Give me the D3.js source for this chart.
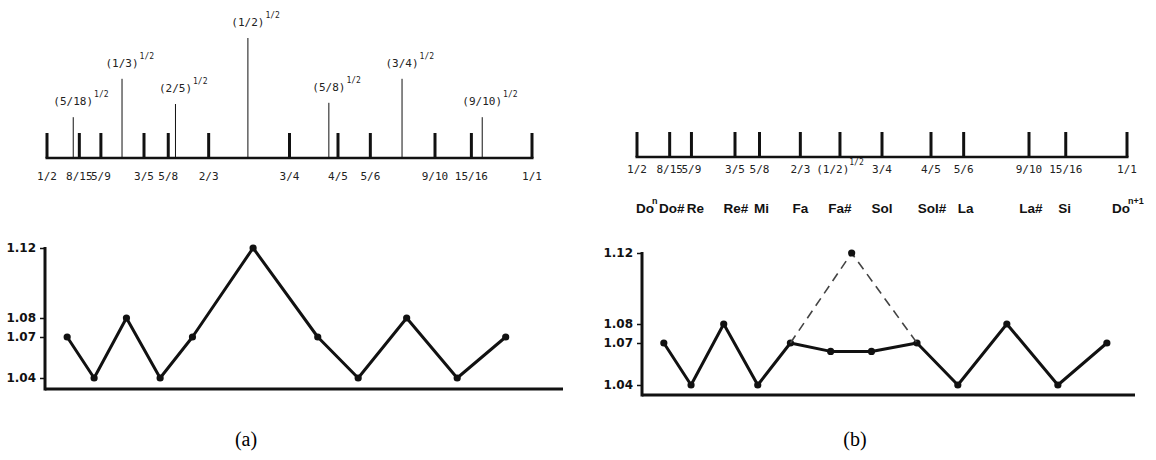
<!DOCTYPE html>
<html>
<head>
<meta charset="utf-8">
<script src="https://cdn.jsdelivr.net/npm/d3@7"></script>
<style>
body{margin:0;background:#fff}
.lbl{font-family:"DejaVu Sans Mono",monospace;font-size:11px;fill:#222}
.sup{font-family:"DejaVu Sans Mono",monospace;font-size:8px;fill:#222}
.note{font-family:"Liberation Sans",Arial,sans-serif;font-size:13.5px;font-weight:bold;fill:#111}
.notesup{font-family:"Liberation Sans",Arial,sans-serif;font-size:9px;font-weight:bold;fill:#111}
.yax text{font-family:"DejaVu Sans",sans-serif;font-size:12px;font-weight:bold;fill:#111}
.yax line{stroke:#111;stroke-width:1.5}
.cap{font-family:"Liberation Serif","Times New Roman",serif;font-size:20px;fill:#000}
</style>
</head>
<body>
<script>
// panel (a) ruler: just intonation ratios
var labelsA = ["1/2","8/15","5/9","3/5","5/8","2/3","3/4","4/5","5/6","9/10","15/16","1/1"];
var ratiosA = [1/2, 8/15, 5/9, 3/5, 5/8, 2/3, 3/4, 4/5, 5/6, 9/10, 15/16, 1];

// square-root ratios drawn as thin lines, with relative height
var rootLabels = ["5/18","1/3","2/5","1/2","5/8","3/4","9/10"];
var rootRatios = [Math.sqrt(5/18), Math.sqrt(1/3), Math.sqrt(2/5), Math.sqrt(1/2), Math.sqrt(5/8), Math.sqrt(3/4), Math.sqrt(9/10)];
var rootLevel = [0.34, 0.66, 0.45, 1, 0.46, 0.66, 0.34];

// panel (b) ruler with (1/2)^1/2 inserted
var labelsB = ["1/2","8/15","5/9","3/5","5/8","2/3","(1/2)","3/4","4/5","5/6","9/10","15/16","1/1"];
var labelSupB = ["","","","","","","1/2","","","","","",""];
var ratiosB = [1/2, 8/15, 5/9, 3/5, 5/8, 2/3, Math.sqrt(1/2), 3/4, 4/5, 5/6, 9/10, 15/16, 1];
var noteNames = ["Do","Do#","Re","Re#","Mi","Fa","Fa#","Sol","Sol#","La","La#","Si","Do"];
var noteSup = ["n","","","","","","","","","","","","n+1"];

// step ratios between neighbouring notes
var yTicks = [1.04, 1.07, 1.08, 1.12];
var stepsA = [1.07, 1.04, 1.08, 1.04, 1.07, 1.12, 1.07, 1.04, 1.08, 1.04, 1.07];
var stepsB = [1.07, 1.04, 1.08, 1.04, 1.07, 1.064, 1.064, 1.07, 1.04, 1.08, 1.04, 1.07];
var dashRatios = [5/8, 2/3, 3/4, 4/5];
var dashSteps = [1.07, 1.12, 1.07];

var svg = d3.select("body").append("svg")
  .attr("width", 1156)
  .attr("height", 460);

var midpoints = function(r){
  var m = [];
  for (var i = 0; i < r.length - 1; i++) m.push((r[i] + r[i+1]) / 2);
  return m;
};

var drawRuler = function(x, ratios, base){
  var g = svg.append("g");
  g.append("line")
    .attr("x1", x(0.5) - 1.5).attr("x2", x(1) + 1.5)
    .attr("y1", base).attr("y2", base)
    .attr("stroke", "#111").attr("stroke-width", 2.5);
  g.selectAll(".tk")
    .data(ratios)
    .enter()
    .append("line")
    .attr("x1", function(d){ return x(d); })
    .attr("x2", function(d){ return x(d); })
    .attr("y1", base)
    .attr("y2", base - 25)
    .attr("stroke", "#111")
    .attr("stroke-width", 3);
  return g;
};

// ---------- panel (a) top ----------
var xA = d3.scaleLinear().domain([0.5, 1]).range([47, 532]);
var baseA = 158;
var gA = drawRuler(xA, ratiosA, baseA);

gA.selectAll(".lb")
  .data(labelsA)
  .enter()
  .append("text")
  .attr("class", "lbl")
  .attr("text-anchor", "middle")
  .attr("x", function(d,i){ return xA(ratiosA[i]); })
  .attr("y", baseA + 22)
  .text(function(d){ return d; });

var hA = d3.scaleLinear().domain([0, 1]).range([baseA, 38]);

gA.selectAll(".rt")
  .data(rootRatios)
  .enter()
  .append("line")
  .attr("x1", function(d){ return xA(d); })
  .attr("x2", function(d){ return xA(d); })
  .attr("y1", baseA)
  .attr("y2", function(d,i){ return hA(rootLevel[i]); })
  .attr("stroke", "#111")
  .attr("stroke-width", 1);

rootRatios.forEach(function(r, i){
  var t = gA.append("text")
    .attr("class", "lbl")
    .attr("text-anchor", "middle")
    .attr("x", xA(r))
    .attr("y", hA(rootLevel[i]) - 12)
    .text("(" + rootLabels[i] + ")");
  var w = t.node().getComputedTextLength();
  gA.append("text")
    .attr("class", "sup")
    .attr("x", xA(r) + w / 2 + 1)
    .attr("y", hA(rootLevel[i]) - 20)
    .text("1/2");
});

// ---------- panel (b) top ----------
var xB = d3.scaleLinear().domain([0.5, 1]).range([637, 1127]);
var baseB = 157;
var gB = drawRuler(xB, ratiosB, baseB);

labelsB.forEach(function(l, i){
  var t = gB.append("text")
    .attr("class", "lbl")
    .attr("text-anchor", "middle")
    .attr("x", xB(ratiosB[i]))
    .attr("y", baseB + 16)
    .text(l);
  if (labelSupB[i]) {
    t.append("tspan").attr("class", "sup").attr("dy", -8).text(labelSupB[i]);
  }
});

// small nudges so the crowded names at the start don't touch
var nameNudge = [-1, 2, 4, 1, 2, 0, 0, 0, 1, 2, 2, -1, -6];
noteNames.forEach(function(n, i){
  var t = gB.append("text")
    .attr("class", "note")
    .attr("text-anchor", i == 0 ? "start" : "middle")
    .attr("x", xB(ratiosB[i]) + nameNudge[i])
    .attr("y", 213)
    .text(n);
  if (noteSup[i]) {
    var bb = t.node().getBBox();
    gB.append("text")
      .attr("class", "notesup")
      .attr("x", bb.x + bb.width - 2)
      .attr("y", 204)
      .text(noteSup[i]);
  }
});

// ---------- lower charts ----------
var drawSteps = function(xS, yS, axisX, axisTop, axisBottom, axisRight, ratios, steps){
  var g = svg.append("g");
  g.append("g")
    .attr("class", "yax")
    .attr("transform", "translate(" + axisX + ",0)")
    .call(d3.axisLeft(yS).tickValues(yTicks).tickSize(5).tickPadding(4).tickFormat(d3.format(".2f")))
    .select(".domain").remove();
  g.append("line")
    .attr("x1", axisX).attr("x2", axisX)
    .attr("y1", axisTop).attr("y2", axisBottom + 1.5)
    .attr("stroke", "#111").attr("stroke-width", 3);
  g.append("line")
    .attr("x1", axisX).attr("x2", axisRight)
    .attr("y1", axisBottom).attr("y2", axisBottom)
    .attr("stroke", "#111").attr("stroke-width", 3);

  var pts = midpoints(ratios).map(function(m, i){ return [xS(m), yS(steps[i])]; });
  g.append("path")
    .attr("d", d3.line()(pts))
    .attr("fill", "none")
    .attr("stroke", "#111")
    .attr("stroke-width", 3)
    .attr("stroke-linejoin", "round");
  g.selectAll("circle")
    .data(pts)
    .enter()
    .append("circle")
    .attr("cx", function(d){ return d[0]; })
    .attr("cy", function(d){ return d[1]; })
    .attr("r", 3.6)
    .attr("fill", "#111");
  return g;
};

var xA2 = d3.scaleLinear().domain([0.5, 1]).range([51, 536]);
var yA2 = d3.scaleLinear().domain(yTicks).range([378, 337, 318, 248]);
drawSteps(xA2, yA2, 45, 247, 389, 563, ratiosA, stepsA);

var xB2 = d3.scaleLinear().domain([0.5, 1]).range([647.5, 1137.5]);
var yB2 = d3.scaleLinear().domain(yTicks).range([385, 343, 324, 253]);
var gB2 = drawSteps(xB2, yB2, 642, 252, 395, 1135, ratiosB, stepsB);

var dashPts = midpoints(dashRatios).map(function(m, i){ return [xB2(m), yB2(dashSteps[i])]; });
gB2.append("path")
  .attr("d", d3.line()(dashPts))
  .attr("fill", "none")
  .attr("stroke", "#444")
  .attr("stroke-width", 1.6)
  .attr("stroke-dasharray", "9,6");
gB2.append("circle")
  .attr("cx", dashPts[1][0])
  .attr("cy", dashPts[1][1])
  .attr("r", 3.6)
  .attr("fill", "#111");

// captions
svg.append("text").attr("class", "cap").attr("text-anchor", "middle").attr("x", 246).attr("y", 446).text("(a)");
svg.append("text").attr("class", "cap").attr("text-anchor", "middle").attr("x", 855).attr("y", 446).text("(b)");
</script>
</body>
</html>
